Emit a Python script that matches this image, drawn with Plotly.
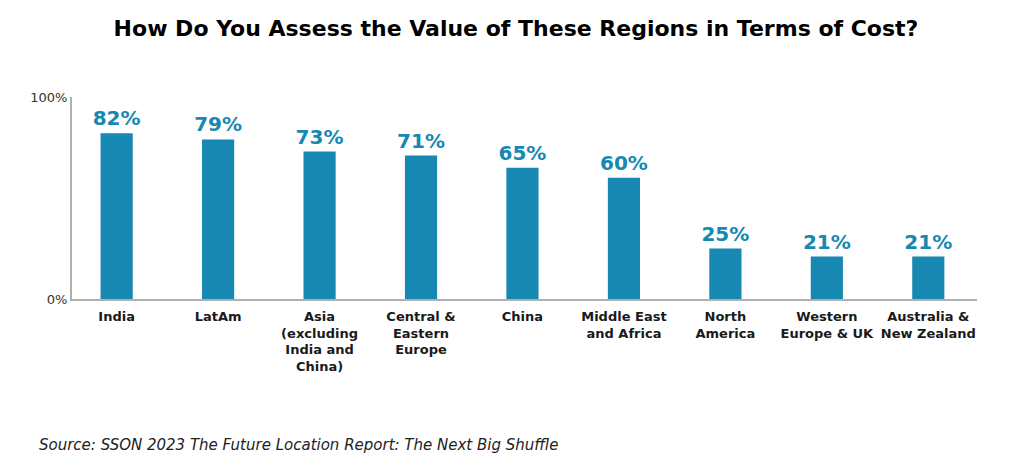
import plotly.graph_objects as go

categories = ["India", "LatAm", "Asia<br>(excluding<br>India and<br>China)", "Central &<br>Eastern<br>Europe",
              "China", "Middle East<br>and Africa", "North<br>America", "Western<br>Europe & UK",
              "Australia &<br>New Zealand"]
values = [82, 79, 73, 71, 65, 60, 25, 21, 21]
labels = [f"{v}%" for v in values]

BAR = "#1688b1"
FONT = "DejaVu Sans, sans-serif"

fig = go.Figure(go.Bar(
    x=categories, y=values, text=labels, textposition="outside", constraintext="none",
    textfont=dict(family=FONT, size=20, color=BAR, weight=700),
    marker=dict(color=BAR, line=dict(width=0)), width=0.317, cliponaxis=False,
))

# page body has an 8px margin, so figure coordinates = page coordinates - 8
W, H = 1016, 464
l, r, t, b = 64, 47, 89, 173
fig.update_layout(
    width=W, height=H, margin=dict(l=l, r=r, t=t, b=b),
    paper_bgcolor="white", plot_bgcolor="white", showlegend=False,
    title=dict(text="<b>How Do You Assess the Value of These Regions in Terms of Cost?</b>",
               x=0.5, xanchor="center", y=1 - 20 / H, yanchor="middle",
               font=dict(family=FONT, size=22, color="#000")),
    xaxis=dict(range=[-0.44, 8.48], showline=True, linecolor="#b0b0b0", linewidth=2,
               ticks="", tickangle=0, tickfont=dict(family=FONT, size=13, color="#1a1a1a", weight=700),
               showgrid=False, ticklabelstandoff=4),
    yaxis=dict(range=[0, 100], tickvals=[0, 100], ticktext=["0%", "100%"], showline=True,
               linecolor="#b0b0b0", linewidth=2, ticks="", showgrid=False, zeroline=False,
               tickfont=dict(family=FONT, size=13, color="#333")),
    bargap=0.6,
)
fig.add_annotation(text="<i>Source: SSON 2023 The Future Location Report: The Next Big Shuffle</i>",
                   xref="paper", yref="paper", x=(29 - l) / (W - l - r), y=(291 - 437) / (H - t - b),
                   xanchor="left", yanchor="middle", showarrow=False,
                   font=dict(family=FONT, size=15, color="#222"))
fig.write_html("out.html")
